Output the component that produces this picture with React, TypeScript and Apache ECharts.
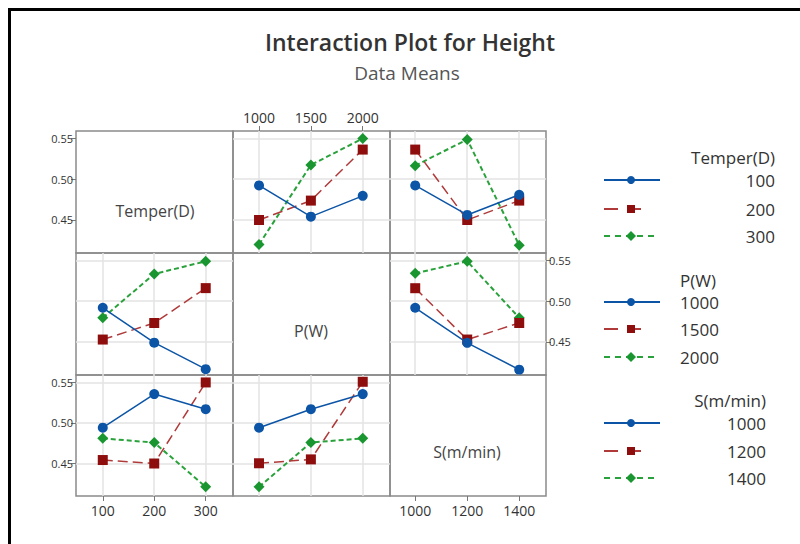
import React, { useEffect, useRef } from "react";
import * as echarts from "echarts";

// ---- factor levels ----
const factorNames = ["Temper(D)", "P(W)", "S(m/min)"];
const temperLevels = [100, 200, 300];
const pLevels = [1000, 1500, 2000];
const sLevels = [1000, 1200, 1400];
const yTickValues = [0.45, 0.5, 0.55];

// ---- data means: rows = line factor level, columns = x factor level ----
// Temper(D) lines vs P(W)
const temperByP = [
  [0.4924, 0.4541, 0.4796],
  [0.45, 0.4738, 0.5364],
  [0.42, 0.5175, 0.55],
];
// Temper(D) lines vs S(m/min)
const temperByS = [
  [0.4924, 0.4562, 0.4809],
  [0.5364, 0.45, 0.4738],
  [0.5167, 0.5488, 0.419],
];
// P(W) lines vs Temper(D)
const pByTemper = [
  [0.492, 0.4492, 0.4167],
  [0.453, 0.4733, 0.5161],
  [0.4796, 0.5335, 0.549],
];
// P(W) lines vs S(m/min)
const pByS = [
  [0.492, 0.449, 0.416],
  [0.516, 0.453, 0.4733],
  [0.5342, 0.549, 0.4796],
];
// S(m/min) lines vs Temper(D)
const sByTemper = [
  [0.494, 0.5356, 0.5169],
  [0.454, 0.4497, 0.55],
  [0.4808, 0.4756, 0.4208],
];
// S(m/min) lines vs P(W)
const sByP = [
  [0.494, 0.5169, 0.5356],
  [0.45, 0.4548, 0.5508],
  [0.4208, 0.4756, 0.4808],
];

const levels = [temperLevels, pLevels, sLevels];
const panelMeans: (number[][] | null)[][] = [
  [null, temperByP, temperByS],
  [pByTemper, null, pByS],
  [sByTemper, sByP, null],
];

// ---- layout ----
const colEdges = [76, 233, 390, 546];
const rowEdges = [131, 253, 375, 496];
const xRanges = [
  [48, 353],
  [749, 2263],
  [903, 1503],
];
const yRange = [0.4095, 0.5592];

const FONT = "'Open Sans', 'Noto Sans', sans-serif";
const BLUE = "#0c55a6";
const RED_M = "#8e0d0d";
const RED_L = "#b03a3a";
const GREEN_M = "#1a9630";
const GREEN_L = "#2aa23c";

const seriesStyles = [
  { symbol: "circle", size: 10, item: BLUE, line: BLUE, type: "solid" as any, width: 1.5 },
  { symbol: "rect", size: 10, item: RED_M, line: RED_L, type: [10, 5] as any, width: 1.5 },
  { symbol: "diamond", size: 11, item: GREEN_M, line: GREEN_L, type: [5, 3] as any, width: 2 },
];

function buildOption() {
  const grid: any[] = [];
  const xAxis: any[] = [];
  const yAxis: any[] = [];
  const series: any[] = [];

  for (let r = 0; r < 3; r++) {
    for (let c = 0; c < 3; c++) {
      const i = r * 3 + c;
      const diag = r === c;
      grid.push({
        left: colEdges[c],
        top: rowEdges[r],
        width: colEdges[c + 1] - colEdges[c],
        height: rowEdges[r + 1] - rowEdges[r],
        show: true,
        borderColor: "#8a8a8a",
        borderWidth: 1.5,
        backgroundColor: "transparent",
      });
      const showX = (c === 0 && r === 2) || (c === 1 && r === 0) || (c === 2 && r === 2);
      const showY = (r === 0 && c === 0) || (r === 1 && c === 2) || (r === 2 && c === 0);
      xAxis.push({
        gridIndex: i,
        type: "value",
        min: xRanges[c][0],
        max: xRanges[c][1],
        position: r === 0 && c === 1 ? "top" : "bottom",
        axisLine: { show: false },
        axisTick: {
          show: showX,
          customValues: levels[c],
          length: 5,
          lineStyle: { color: "#777", width: 1 },
        },
        axisLabel: {
          show: showX,
          customValues: levels[c],
          fontSize: 14,
          fontFamily: FONT,
          color: "#333",
          margin: 7,
          formatter: (v: number) => String(v),
        },
        splitLine: { show: !diag, lineStyle: { color: "#e3e3e3", width: 1.5 } },
      });
      yAxis.push({
        gridIndex: i,
        type: "value",
        min: yRange[0],
        max: yRange[1],
        position: r === 1 && c === 2 ? "right" : "left",
        axisLine: { show: false },
        axisTick: {
          show: showY,
          customValues: yTickValues,
          length: 5,
          lineStyle: { color: "#777", width: 1 },
        },
        axisLabel: {
          show: showY,
          customValues: yTickValues,
          fontSize: 11,
          fontFamily: FONT,
          color: "#333",
          margin: 3,
          formatter: (v: number) => v.toFixed(2),
        },
        splitLine: { show: !diag, lineStyle: { color: "#e3e3e3", width: 1.5 } },
      });
      const means = panelMeans[r][c];
      if (means) {
        means.forEach((vals, k) => {
          const st = seriesStyles[k];
          series.push({
            type: "line",
            xAxisIndex: i,
            yAxisIndex: i,
            data: levels[c].map((x, j) => [x, vals[j]]),
            symbol: st.symbol,
            symbolSize: st.size,
            itemStyle: { color: st.item },
            lineStyle: { color: st.line, type: st.type, width: st.width },
            z: 3 + (2 - k),
          });
        });
      }
    }
  }

  const graphic: any[] = [];
  // outer frame
  graphic.push({
    type: "rect",
    shape: { x: 9.5, y: 9.5, width: 1200, height: 1200 },
    style: { fill: "none", stroke: "#000", lineWidth: 3 },
    silent: true,
  });
  // title
  graphic.push({
    type: "text",
    x: 410,
    y: 42,
    style: {
      text: "Interaction Plot for Height",
      fontFamily: FONT,
      fontSize: 23,
      fontWeight: 600,
      fill: "#333",
      textAlign: "center",
      textVerticalAlign: "middle",
    },
  });
  graphic.push({
    type: "text",
    x: 407,
    y: 73,
    style: {
      text: "Data Means",
      fontFamily: FONT,
      fontSize: 19,
      fill: "#555",
      textAlign: "center",
      textVerticalAlign: "middle",
    },
  });
  // diagonal labels
  const diagPos = [
    [155, 211],
    [311, 331],
    [467, 452],
  ];
  factorNames.forEach((name, k) => {
    graphic.push({
      type: "text",
      x: diagPos[k][0],
      y: diagPos[k][1],
      style: {
        text: name,
        fontFamily: FONT,
        fontSize: 16,
        fill: "#444",
        textAlign: "center",
        textVerticalAlign: "middle",
      },
    });
  });

  // legends
  const legendGroups = [
    { header: [775, 157, "right"], values: [775, "right"], rows: [180, 209, 236] },
    { header: [680, 280, "left"], values: [680, "left"], rows: [302, 329, 357] },
    { header: [766, 400, "right"], values: [766, "right"], rows: [423, 451, 478] },
  ];
  legendGroups.forEach((g, gi) => {
    graphic.push({
      type: "text",
      x: g.header[0] as number,
      y: g.header[1] as number,
      style: {
        text: factorNames[gi],
        fontFamily: FONT,
        fontSize: 17,
        fill: "#333",
        textAlign: g.header[2],
        textVerticalAlign: "middle",
      },
    });
    g.rows.forEach((yy, k) => {
      const st = seriesStyles[k];
      const dash = k === 0 ? null : k === 1 ? [14, 9] : [6, 5];
      graphic.push({
        type: "line",
        shape: { x1: 604, y1: yy, x2: k === 0 ? 660 : k === 1 ? 649 : 656, y2: yy },
        style: { stroke: st.line, lineWidth: 1.8, lineDash: dash },
      });
      if (k === 0) {
        graphic.push({ type: "circle", shape: { cx: 631, cy: yy, r: 4 }, style: { fill: st.item } });
      } else if (k === 1) {
        graphic.push({ type: "rect", shape: { x: 627, y: yy - 4, width: 8, height: 8 }, style: { fill: st.item } });
      } else {
        graphic.push({
          type: "polygon",
          shape: { points: [[631, yy - 5], [636, yy], [631, yy + 5], [626, yy]] },
          style: { fill: st.item },
        });
      }
      graphic.push({
        type: "text",
        x: g.values[0] as number,
        y: yy,
        style: {
          text: String(levels[gi][k]),
          fontFamily: FONT,
          fontSize: 17,
          fill: "#333",
          textAlign: g.values[1],
          textVerticalAlign: "middle",
        },
      });
    });
  });

  return {
    animation: false,
    backgroundColor: "#fff",
    grid,
    xAxis,
    yAxis,
    series,
    graphic,
  };
}

export default function App() {
  const ref = useRef<HTMLDivElement>(null);
  useEffect(() => {
    if (!ref.current) return;
    const chart = echarts.init(ref.current, undefined, { renderer: "svg" });
    chart.setOption(buildOption() as any);
    return () => chart.dispose();
  }, []);
  return (
    <div
      ref={ref}
      style={{ position: "fixed", left: 0, top: 0, width: 800, height: 544 }}
    />
  );
}
